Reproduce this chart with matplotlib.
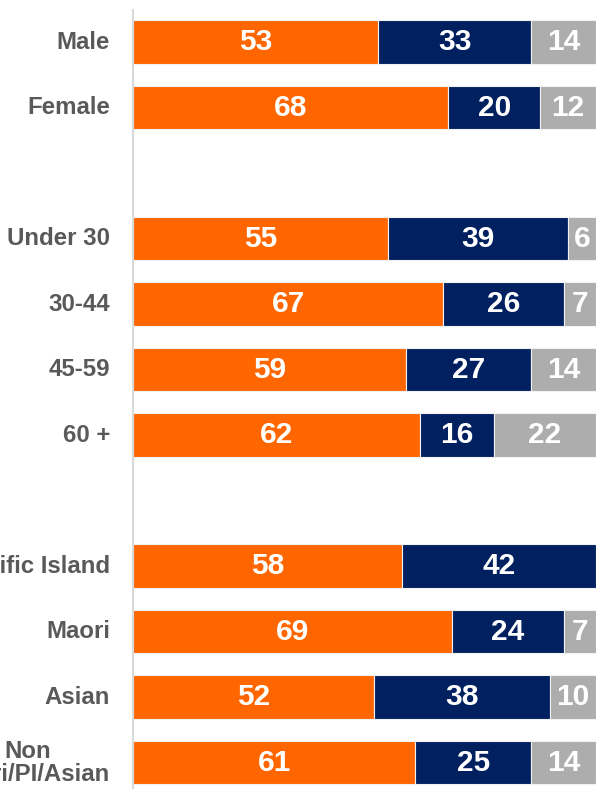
import matplotlib
matplotlib.use("Agg")
import matplotlib.pyplot as plt

categories = ["Male", "Female", "", "Under 30", "30-44", "45-59", "60 +", "",
              "Pacific Island", "Maori", "Asian", "Non\nMaori/PI/Asian"]
series_a = [53, 68, None, 55, 67, 59, 62, None, 58, 69, 52, 61]
series_b = [33, 20, None, 39, 26, 27, 16, None, 42, 24, 38, 25]
series_c = [14, 12, None, 6, 7, 14, 22, None, 0, 7, 10, 14]

colors = ["#FF6600", "#002060", "#ADADAD"]

W, H = 596, 789
fig = plt.figure(figsize=(W / 100, H / 100), dpi=100)
pitch = 65.5
top_px = 10
ymin, ymax = -0.49, 11.5
ax_h = (ymax - ymin) * pitch
left = 133 / W
bottom = (H - top_px - ax_h) / H
ax = fig.add_axes([left, bottom, 1 - left, ax_h / H])

font = "Liberation Sans"
for i, cat in enumerate(categories):
    if series_a[i] is None:
        continue
    start = 0
    for vals, col in zip([series_a, series_b, series_c], colors):
        v = vals[i]
        if not v:
            continue
        ax.barh(i, v, left=start, height=0.66, color=col,
                edgecolor="#F2F2F2", linewidth=0.8)
        ax.text(start + v / 2, i, str(v), ha="center", va="center",
                color="white", fontsize=21.5, fontweight="bold", family=font)
        start += v
    ax.text(-23 / 4.63, i, cat, ha="right", va="center", color="#595959",
            fontsize=17.3, fontweight="bold", family=font, multialignment="center",
            linespacing=1.0)

ax.set_xlim(0, 100)
ax.set_ylim(ymax, ymin)
for s in ["top", "right", "bottom"]:
    ax.spines[s].set_visible(False)
ax.spines["left"].set_color("#D9D9D9")
ax.spines["left"].set_linewidth(1.5)
ax.set_xticks([])
ax.set_yticks([])

fig.savefig("out.png", dpi=100)
